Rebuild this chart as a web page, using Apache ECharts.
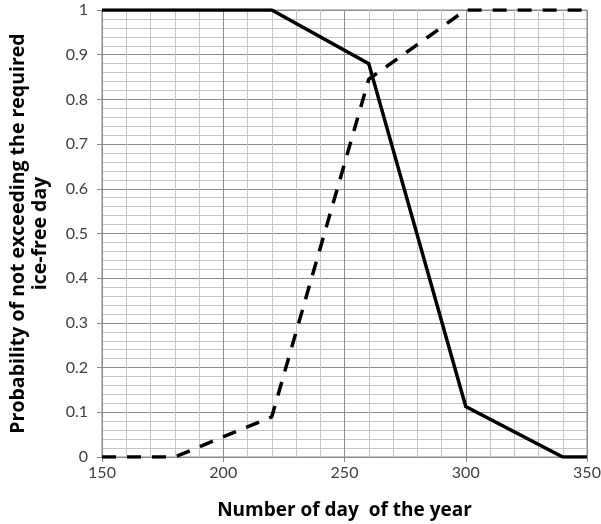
<!DOCTYPE html>
<html><head><meta charset="utf-8">
<script src="https://cdn.jsdelivr.net/npm/echarts@6/dist/echarts.min.js"></script>
<style>html,body{margin:0;padding:0;background:#fff}#c{width:601px;height:524px}</style>
</head><body><div id="c"></div>
<script>
const solidX = [150, 220, 260, 300, 340, 350];
const solidY = [1, 1, 0.88, 0.113, 0, 0];
const dashX = [150, 180, 220, 260, 300, 350];
const dashY = [0, 0, 0.09, 0.845, 1, 1];
const xTitle = 'Number of day  of the year';
const yTitle = 'Probability of not exceeding the required\nice-free day';

const chart = echarts.init(document.getElementById('c'), null, {renderer: 'canvas'});
const font = 'Lato, "Open Sans", sans-serif';
const tfont = '"Open Sans", Lato, sans-serif';
chart.setOption({
  animation: false,
  backgroundColor: '#fff',
  grid: {left: 102, right: 14, top: 10, bottom: 67, show: true, borderColor: '#8a8a8a', borderWidth: 1,
         containLabel: false, outerBoundsMode: 'none'},
  xAxis: {
    type: 'value', min: 150, max: 350, interval: 50,
    name: xTitle, nameLocation: 'middle', nameGap: 44,
    nameTextStyle: {fontFamily: tfont, fontWeight: 'bold', fontSize: 19, color: '#000'},
    axisLine: {show: true, lineStyle: {color: '#8a8a8a', width: 1}},
    axisTick: {show: true, length: 5, lineStyle: {color: '#8a8a8a'}},
    axisLabel: {fontFamily: font, fontSize: 16, color: '#404040', margin: 8},
    splitLine: {show: true, lineStyle: {color: '#8c8c8c', width: 1}},
    minorTick: {show: false, splitNumber: 5},
    minorSplitLine: {show: true, lineStyle: {color: '#c6c6c6', width: 1}}
  },
  yAxis: {
    type: 'value', min: 0, max: 1, interval: 0.1,
    name: yTitle, nameLocation: 'middle', nameGap: 51, nameRotate: 90,
    nameTextStyle: {fontFamily: tfont, fontWeight: 'bold', fontSize: 19.5, color: '#000', align: 'center', lineHeight: 22},
    axisLine: {show: true, lineStyle: {color: '#8a8a8a', width: 1}},
    axisTick: {show: true, length: 5, lineStyle: {color: '#8a8a8a'}},
    axisLabel: {fontFamily: font, fontSize: 16, color: '#404040', margin: 14},
    splitLine: {show: true, lineStyle: {color: '#8c8c8c', width: 1}},
    minorTick: {show: false, splitNumber: 5},
    minorSplitLine: {show: true, lineStyle: {color: '#c6c6c6', width: 1}}
  },
  series: [
    {type: 'line', data: solidX.map((x, i) => [x, solidY[i]]), symbol: 'none',
     lineStyle: {color: '#000', width: 3.5, type: 'solid', join: 'miter'}},
    {type: 'line', data: dashX.map((x, i) => [x, dashY[i]]), symbol: 'none',
     lineStyle: {color: '#000', width: 3.5, type: [14, 11]}}
  ]
});
</script></body></html>
